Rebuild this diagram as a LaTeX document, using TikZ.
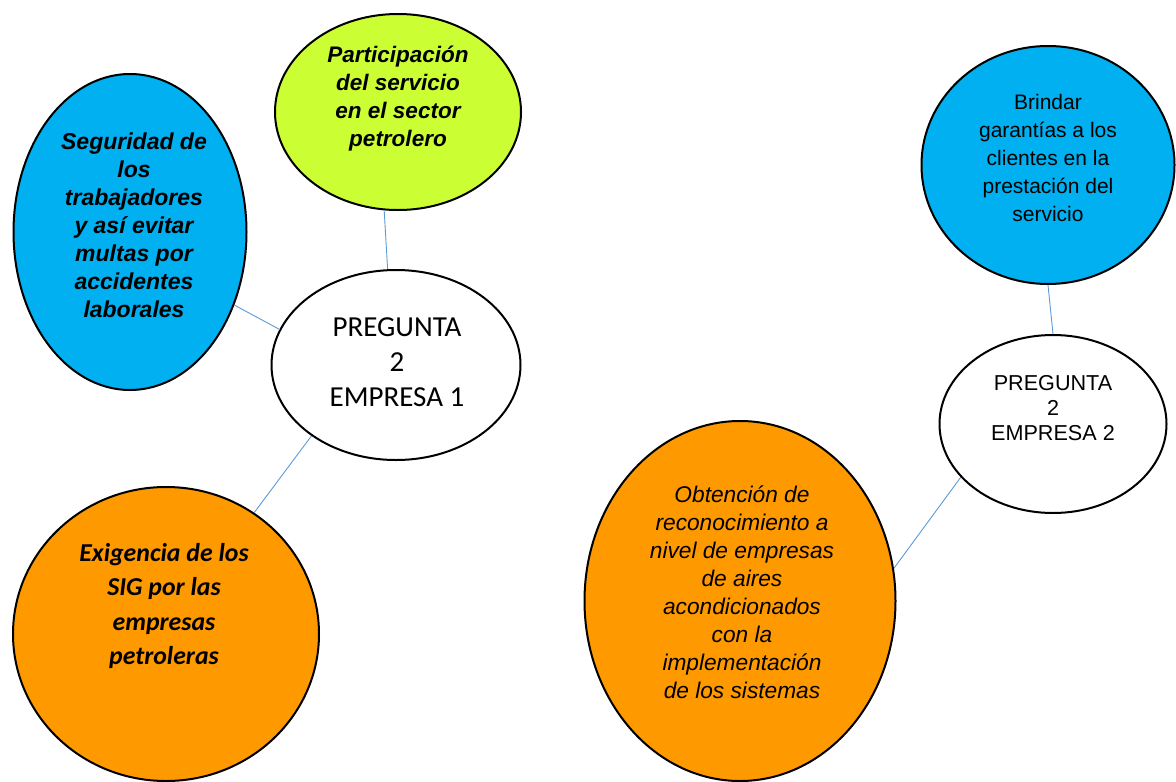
\documentclass[tikz,border=0pt]{standalone}
\usepackage{fontspec}
\setmainfont{Liberation Sans}
\newfontfamily\calibri{Carlito}
\usetikzlibrary{shapes.geometric}

\definecolor{limegreen}{RGB}{204,255,51}
\definecolor{skyblue}{RGB}{0,176,240}
\definecolor{amber}{RGB}{255,153,0}
\definecolor{linkblue}{RGB}{91,155,213}

\tikzset{
  bubble/.style={ellipse, draw=black, line width=2pt, inner sep=0pt},
  link/.style={draw=linkblue, line width=0.9pt},
  txt/.style={align=center, inner sep=0pt}
}

\begin{document}
\begin{tikzpicture}[x=1pt, y=-1pt]
  \useasboundingbox (0,0) rectangle (1176,782);

  % Empresa 1
  \node[bubble, fill=limegreen, minimum width=246pt, minimum height=196pt] (part) at (398,112) {};
  \node[bubble, fill=skyblue, minimum width=233pt, minimum height=316pt] (segur) at (130,232) {};
  \node[bubble, fill=white, minimum width=249pt, minimum height=190pt] (preg1) at (396,365) {};
  \node[bubble, fill=amber, minimum width=306pt, minimum height=294pt] (exig) at (166,634) {};

  \node[txt, font={\fontsize{22.5}{28}\selectfont\bfseries\itshape}] (tpart) at (398,99)
    {Participación\\del servicio\\en el sector\\petrolero};
  \node[txt, font={\fontsize{23}{28}\selectfont\bfseries\itshape}] (tsegur) at (134,225)
    {Seguridad de\\los\\trabajadores\\y así evitar\\multas por\\accidentes\\laborales};
  \node[txt, font={\calibri\fontsize{29}{35}\selectfont}] (tpreg1) at (397,362)
    {PREGUNTA\\2\\EMPRESA 1};
  \node[txt, font={\calibri\fontsize{25.8}{34.5}\selectfont\bfseries\itshape}] (texig) at (164,606)
    {Exigencia de los\\SIG por las\\empresas\\petroleras};

  % Empresa 2
  \node[bubble, fill=skyblue, minimum width=253pt, minimum height=238pt] (brind) at (1048,165) {};
  \node[bubble, fill=white, minimum width=227pt, minimum height=178pt] (preg2) at (1053,424) {};
  \node[bubble, fill=amber, minimum width=311pt, minimum height=360pt] (obten) at (740,601) {};

  \node[txt, font={\fontsize{21}{27.8}\selectfont}] (tbrind) at (1048,158)
    {Brindar\\garantías a los\\clientes en la\\prestación del\\servicio};
  \node[txt, font={\fontsize{21.6}{25}\selectfont}] (tpreg2) at (1053,408)
    {PREGUNTA\\2\\ EMPRESA 2};
  \node[txt, font={\fontsize{22.7}{28}\selectfont\itshape}] (tobten) at (742,592)
    {Obtención de\\reconocimiento a\\nivel de empresas\\de aires\\acondicionados\\con la\\implementación\\de los sistemas};

  % conectores
  \draw[link] (part.262) -- (preg1.95);
  \draw[link] (segur.325) -- (preg1.163);
  \draw[link] (preg1.220) -- (exig.54);
  \draw[link] (brind.south) -- (preg2.north);
  \draw[link] (preg2.210) -- (obten.12);
\end{tikzpicture}
\end{document}
